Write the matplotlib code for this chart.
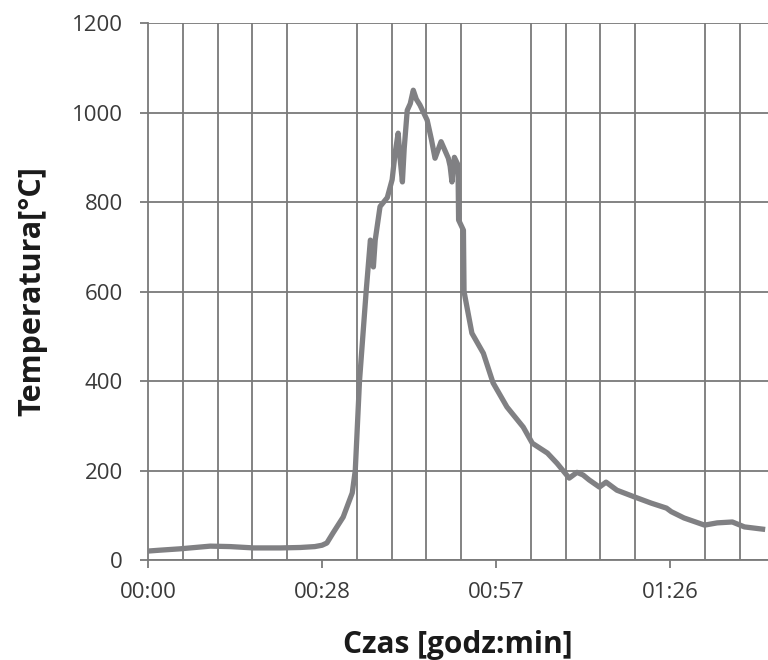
import numpy as np
import matplotlib
matplotlib.use('Agg')
import matplotlib.pyplot as plt
from matplotlib.ticker import FixedLocator, MultipleLocator

plt.rcParams['font.family'] = ['Open Sans', 'DejaVu Sans']

# time in minutes, temperature in deg C
time_min = [0.0, 2.0, 5.3, 10.3, 13.6, 17.5, 21.9, 25.2, 27.6, 28.8, 29.6, 30.6,
            32.3, 33.8, 34.3, 35.0, 36.1, 36.8, 37.0, 37.3, 37.6, 38.4, 39.6,
            40.4, 40.9, 41.4, 41.7, 42.1, 42.4, 42.9, 43.4, 43.9, 44.4, 45.0,
            46.2, 46.9, 47.5, 48.5, 49.7, 50.0, 50.3, 50.7, 51.3, 51.4, 52.2,
            52.3, 53.6, 55.5, 57.1, 59.4, 62.1, 63.6, 66.1, 67.7, 69.7, 71.0,
            72.0, 73.0, 74.7, 75.8, 77.6, 80.5, 83.3, 85.8, 86.6, 88.7, 92.1,
            94.2, 96.7, 98.7, 101.7]
temp_c = [20, 22, 25, 31, 30, 27, 27, 28, 30, 33, 38, 60,
          96, 150, 200, 400, 600, 715, 705, 655, 715, 790, 810,
          850, 910, 954, 900, 845, 920, 1005, 1020, 1050, 1030, 1017,
          983, 940, 898, 935, 898, 880, 845, 900, 883, 760, 737,
          600, 507, 462, 396, 342, 297, 261, 239, 216, 183, 196,
          190, 179, 163, 174, 156, 141, 127, 116, 108, 94, 78,
          83, 85, 74, 69]

tick_pos = [0, 28.8, 57.6, 86.4]
tick_labels = ['00:00', '00:28', '00:57', '01:26']

fig = plt.figure(figsize=(7.68, 6.6), dpi=100)
ax = fig.add_axes([0.1927, 0.1515, 0.8073, 0.8135])

grid_color = '#7a7a7a'
ax.plot(time_min, temp_c, color='#808083', linewidth=3.8, solid_joinstyle='round', zorder=3)

ax.set_xlim(0, 102.6)
ax.set_ylim(0, 1200)
ax.yaxis.set_major_locator(MultipleLocator(200))
ax.xaxis.set_major_locator(FixedLocator(tick_pos))
ax.set_xticklabels(tick_labels)
ax.xaxis.set_minor_locator(MultipleLocator(5.76))

ax.grid(True, which='major', axis='y', color=grid_color, linewidth=1.3)
ax.grid(True, which='minor', axis='x', color=grid_color, linewidth=1.3)
ax.set_axisbelow(True)

for side in ['top', 'right']:
    ax.spines[side].set_visible(False)
ax.spines['left'].set_color(grid_color)
ax.spines['left'].set_linewidth(1.3)
ax.spines['bottom'].set_color(grid_color)
ax.spines['bottom'].set_linewidth(1.3)

ax.tick_params(axis='both', which='major', direction='out', length=6, width=1.3,
               color=grid_color, labelsize=16, labelcolor='#3a3a3a')
ax.tick_params(axis='x', which='major', pad=10)
ax.tick_params(axis='y', which='major', pad=12)
ax.tick_params(axis='x', which='minor', length=0)

ax.set_xlabel('Czas [godz:min]', fontsize=21.5, fontweight='bold', color='#1a1a1a', labelpad=19)
ax.set_ylabel('Temperatura[°C]', fontsize=22, fontweight='bold', color='#1a1a1a', labelpad=18)

fig.savefig('out.png', dpi=100)
